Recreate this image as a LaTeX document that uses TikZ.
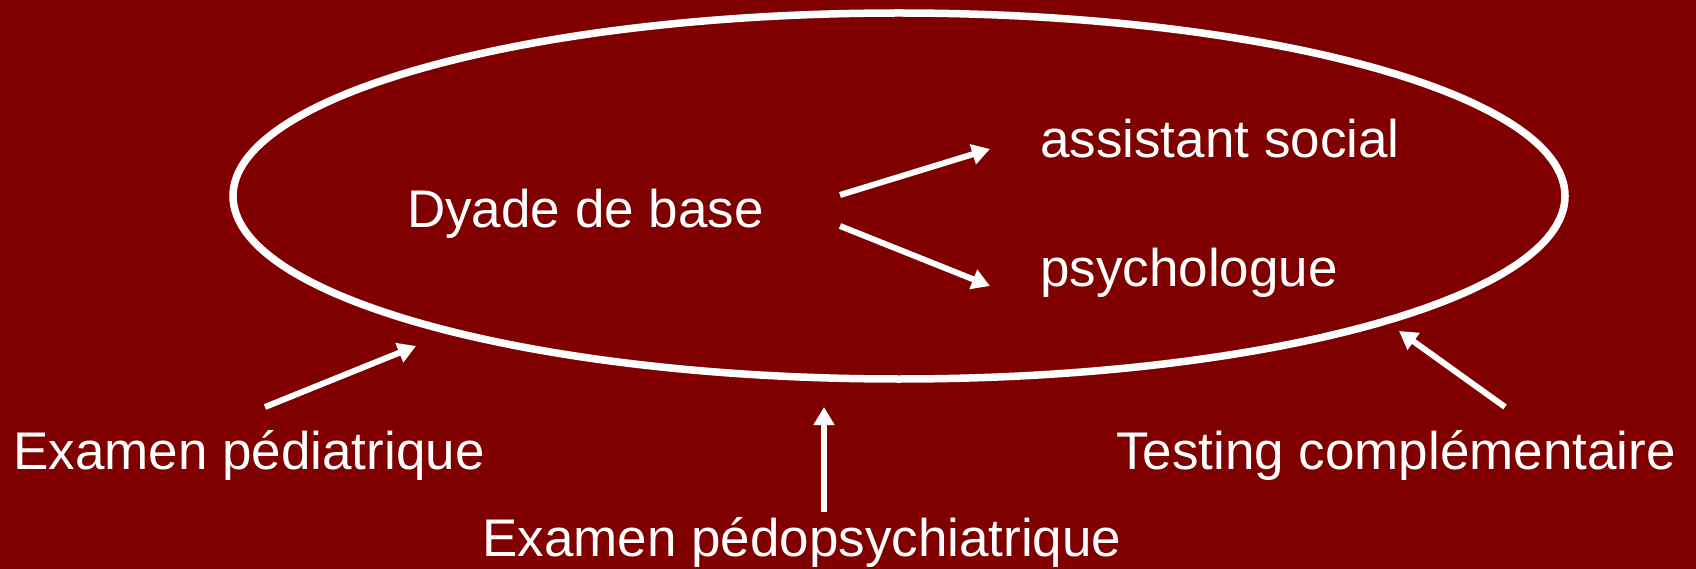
\documentclass[tikz,border=0pt]{standalone}
\usepackage{fontspec}
\setmainfont{Liberation Sans}
\usetikzlibrary{arrows.meta,shapes.geometric}
\definecolor{bgred}{HTML}{800000}
\begin{document}
\begin{tikzpicture}[x=1pt,y=-1pt,
  lbl/.style={anchor=base west,inner sep=0pt,text=white,font=\fontsize{53}{60}\selectfont},
  arr/.style={draw=white,line width=6pt,-{Triangle[length=18pt,width=20pt]}},
  ring/.style={draw=white,line width=7.5pt}]
\fill[bgred] (0,0) rectangle (1696,569);
\useasboundingbox (0,0) rectangle (1696,569);
\node[ring,ellipse,minimum width=1332pt,minimum height=366pt,inner sep=0pt] (ell) at (899,196) {};
\node[lbl] (dyade) at (407,228) {Dyade de base};
\node[lbl] (assist) at (1040,158) {assistant social};
\node[lbl] (psy) at (1040,287) {psychologue};
\node[lbl] (ped) at (13,469) {Examen pédiatrique};
\node[lbl] (pedo) at (482,556) {Examen pédopsychiatrique};
\node[lbl] (test) at (1116,469) {Testing complémentaire};
\coordinate (a1s) at (840,195);
\coordinate (a1e) at (990,149);
\coordinate (a2s) at (840,226);
\coordinate (a2e) at (990,286);
\coordinate (a3s) at (265,407);
\coordinate (a3e) at (416,346);
\coordinate (a4s) at (824,512);
\coordinate (a4e) at (824,407);
\coordinate (a5s) at (1505,407);
\coordinate (a5e) at (1399,331);
\draw[arr] (a1s) -- (a1e);
\draw[arr] (a2s) -- (a2e);
\draw[arr] (a3s) -- (a3e);
\draw[arr] (a4s) -- (a4e);
\draw[arr] (a5s) -- (a5e);
\end{tikzpicture}
\end{document}
